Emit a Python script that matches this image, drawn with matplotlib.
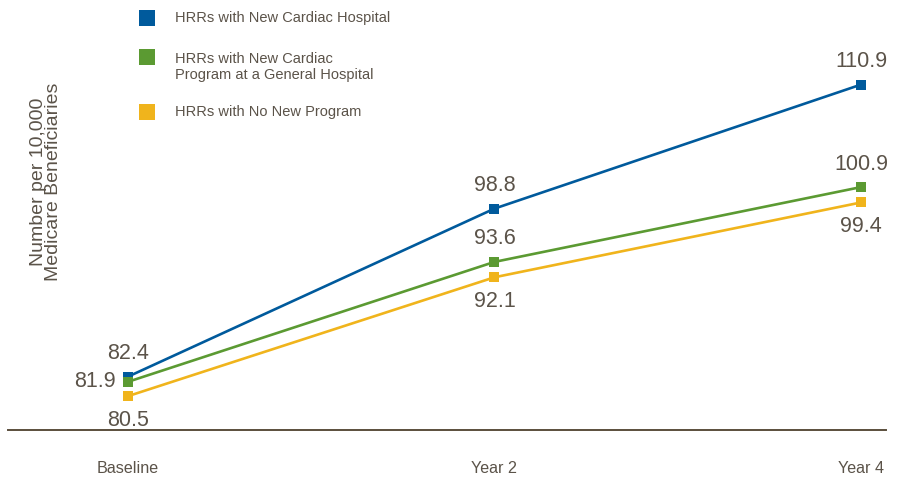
import numpy as np
import matplotlib.pyplot as plt
from matplotlib.lines import Line2D

# Data
periods = ['Baseline', 'Year 2', 'Year 4']
series_names = ['HRRs with New Cardiac Hospital',
                'HRRs with New Cardiac\nProgram at a General Hospital',
                'HRRs with No New Program']
new_hospital = [82.4, 98.8, 110.9]
new_program = [81.9, 93.6, 100.9]
no_program = [80.5, 92.1, 99.4]

colors = ['#005a9c', '#5b9a32', '#f0b41c']
text_color = '#5b5349'
axis_color = '#5a4e3c'

FONT = ['Liberation Sans', 'DejaVu Sans']

W, H = 906, 478
fig = plt.figure(figsize=(W / 100, H / 100), dpi=100)
ax = fig.add_axes([8 / W, 48 / H, 878 / W, 410 / H])

x = np.arange(len(periods))
all_series = [new_hospital, new_program, no_program]

for vals, c in zip(all_series, colors):
    ax.plot(x, vals, color=c, lw=1.9, marker='s', markersize=7.5,
            markeredgewidth=0, zorder=3)

# value labels (offsets in points)
offsets = [
    [(0, 9, 'center', 'bottom')] * 3,
    [(-9, 0, 'right', 'center'), (0, 9, 'center', 'bottom'), (0, 9, 'center', 'bottom')],
    [(0, -10, 'center', 'top')] * 3,
]
for vals, offs in zip(all_series, offsets):
    for xi, v, (dx, dy, ha, va) in zip(x, vals, offs):
        ax.annotate(f'{v:.1f}', (xi, v), xytext=(dx, dy), textcoords='offset points',
                    ha=ha, va=va, fontsize=15.5, color=text_color, family=FONT)

ax.set_xlim(-0.327, 2.068)
ax.set_ylim(77.2, 117.2)
ax.set_xticks(x)
ax.set_xticklabels(periods, fontsize=11.6, color=text_color, family=FONT)
ax.tick_params(axis='x', length=0, pad=22)
ax.set_yticks([])
for s in ['top', 'right', 'left']:
    ax.spines[s].set_visible(False)
ax.spines['bottom'].set_color(axis_color)
ax.spines['bottom'].set_linewidth(1.4)

fig.text(46 / W, 1 - 182 / H, 'Number per 10,000\nMedicare Beneficiaries', rotation=90,
         ha='center', va='center', fontsize=14, color=text_color, family=FONT,
         linespacing=0.85)

# legend drawn by hand
marker_y = [18, 57, 112]
text_y = [18, 67, 112]
for name, c, my, ty in zip(series_names, colors, marker_y, text_y):
    fig.add_artist(Line2D([147 / W], [1 - my / H], marker='s', markersize=11.5,
                          color=c, markeredgewidth=0, linestyle='none'))
    fig.text(175 / W, 1 - ty / H, name, ha='left', va='center', fontsize=10.5,
             color=text_color, family=FONT, linespacing=1.25)

fig.savefig('out.png', dpi=100)
